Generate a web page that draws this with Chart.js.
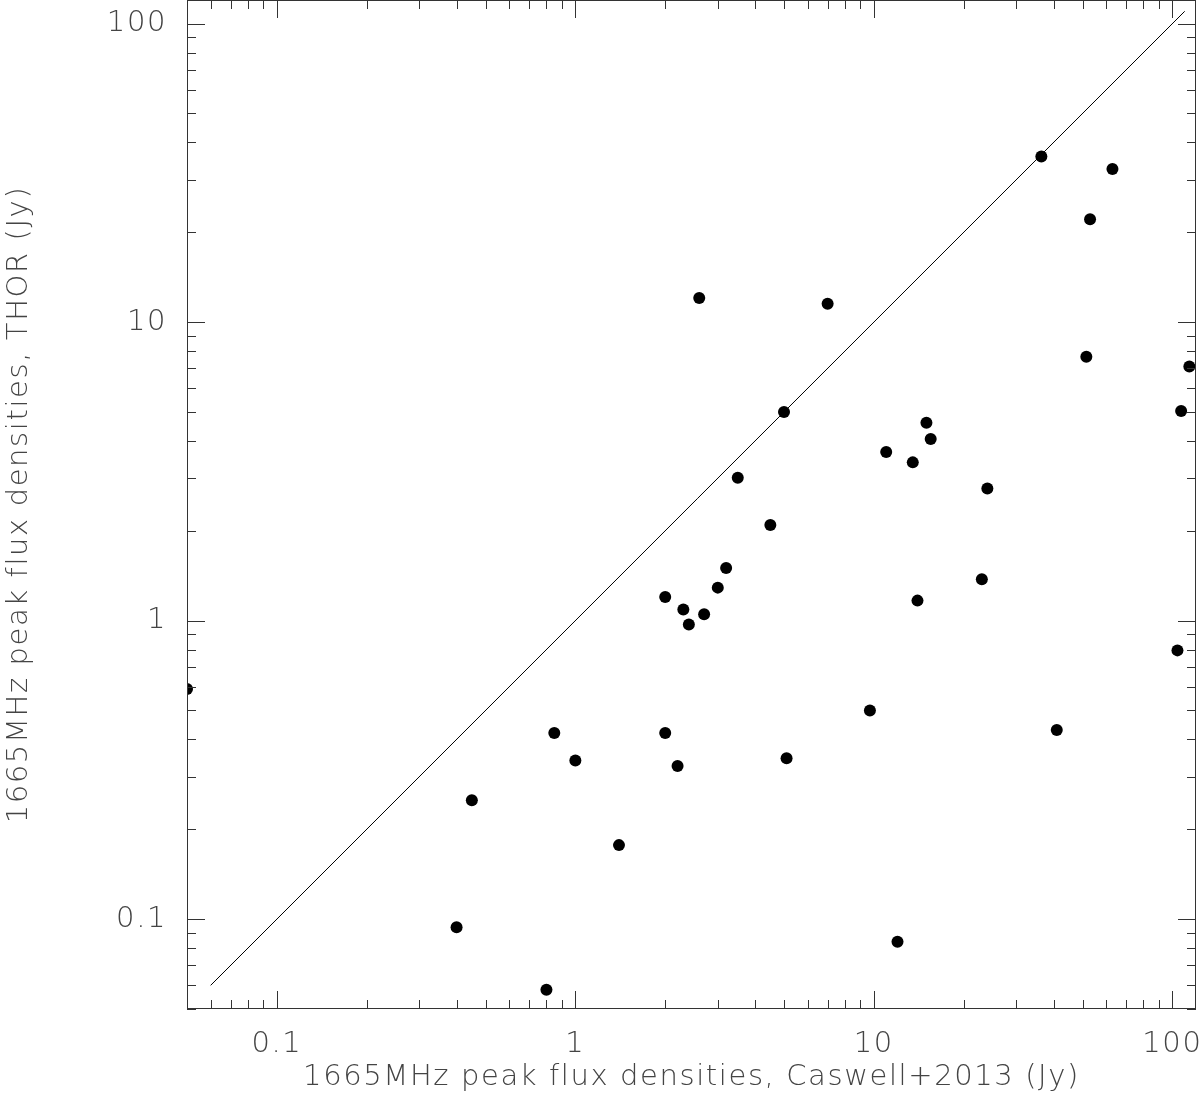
<!DOCTYPE html>
<html>
<head>
<meta charset="utf-8">
<script src="https://cdn.jsdelivr.net/npm/chart.js@4"></script>
<style>
  html, body { margin: 0; padding: 0; background: #fff; }
  #wrap { width: 1200px; height: 1097px; }
</style>
</head>
<body>
<div id="wrap"><canvas id="myChart" width="1200" height="1097"></canvas></div>
<script>
// peak flux densities at 1665 MHz: Caswell+2013 (x) vs THOR (y), in Jy
var caswellFlux = [0.05, 0.85, 1.0, 0.45, 1.40, 0.40, 0.80, 5.0, 15.0, 15.5,
                   11.0, 13.5, 24.0, 3.5, 4.5, 3.2, 3.0, 2.0, 2.3, 2.7,
                   2.4, 23.0, 14.0, 9.7, 2.0, 2.2, 5.1, 104, 41, 12.0,
                   36.4, 63, 53, 2.6, 7.0, 51.5, 114, 107];
var thorFlux = [0.59, 0.42, 0.34, 0.25, 0.177, 0.094, 0.058, 5.0, 4.6, 4.06,
                3.67, 3.39, 2.77, 3.01, 2.09, 1.50, 1.29, 1.20, 1.09, 1.05,
                0.97, 1.375, 1.167, 0.50, 0.42, 0.326, 0.346, 0.795, 0.43, 0.084,
                35.9, 32.6, 22.1, 12.04, 11.52, 7.65, 7.10, 5.04];

// one-to-one line
var lineX = [0.06, 110];
var lineY = [0.06, 110];

// axis range and ticks
var axisMin = 0.05;
var axisMax = 120;
var majorVals = [0.1, 1, 10, 100];
var majorLabels = ['0.1', '1', '10', '100'];
var mantissas = [1, 2, 3, 4, 5, 6, 7, 8, 9];
var decades = [0.01, 0.1, 1, 10, 100];

var textFont = { family: "'DejaVu Sans', sans-serif", size: 29, weight: 200 };
var textColor = '#444';
var frameColor = '#333';

function logTicks(scale) {
    var ticks = [];
    decades.forEach(function (d) {
        mantissas.forEach(function (m) {
            var v = +(m * d).toPrecision(3);
            if (v >= axisMin && v <= axisMax) {
                ticks.push({ value: v, major: m === 1 });
            }
        });
    });
    scale.ticks = ticks;
}

function tickLabel(value) {
    var i = majorVals.indexOf(+value.toPrecision(3));
    return i >= 0 ? majorLabels[i] : '';
}

// keep the plot box fixed, no extra room for edge labels
function noPad(s) {
    s.paddingTop = 0;
    s.paddingBottom = 0;
    s.paddingLeft = 0;
    s.paddingRight = 0;
}

// wider letters, like the plotting package's stroke font
var wideText = {
    id: 'wideText',
    beforeDraw: function (chart) {
        chart.ctx.letterSpacing = '1.6px';
    }
};

// box around the plot with inward ticks on all four sides
var frameTicks = {
    id: 'frameTicks',
    afterDraw: function (chart) {
        var ctx = chart.ctx, a = chart.chartArea;
        var xs = chart.scales.x, ys = chart.scales.y;
        ctx.save();
        ctx.strokeStyle = frameColor;
        ctx.lineWidth = 1;
        ctx.strokeRect(a.left + 0.5, a.top + 0.5, a.right - a.left - 1, a.bottom - a.top - 1);
        ctx.beginPath();
        xs.ticks.forEach(function (t) {
            var px = Math.round(xs.getPixelForValue(t.value)) + 0.5;
            var len = t.major ? 18 : 9;
            ctx.moveTo(px, a.bottom); ctx.lineTo(px, a.bottom - len);
            ctx.moveTo(px, a.top); ctx.lineTo(px, a.top + len);
        });
        ys.ticks.forEach(function (t) {
            var py = Math.round(ys.getPixelForValue(t.value)) + 0.5;
            var len = t.major ? 18 : 9;
            ctx.moveTo(a.left, py); ctx.lineTo(a.left + len, py);
            ctx.moveTo(a.right, py); ctx.lineTo(a.right - len, py);
        });
        ctx.stroke();
        ctx.restore();
    }
};

var ctx = document.getElementById('myChart').getContext('2d');

var scatterData = caswellFlux.map(function (x, i) { return { x: x, y: thorFlux[i] }; });
var lineData = lineX.map(function (x, i) { return { x: x, y: lineY[i] }; });

var myChart = new Chart(ctx, {
    type: 'scatter',
    data: {
        datasets: [{
            label: 'masers',
            data: scatterData,
            backgroundColor: '#000',
            borderWidth: 0,
            pointRadius: 6,
            pointHoverRadius: 6,
            clip: 0
        }, {
            type: 'line',
            label: '1:1',
            data: lineData,
            borderColor: '#000',
            borderWidth: 1,
            pointRadius: 0,
            fill: false,
            clip: 0
        }]
    },
    options: {
        responsive: false,
        animation: false,
        events: [],
        layout: { autoPadding: false, padding: { top: 0, right: 4, left: 0, bottom: 0 } },
        plugins: {
            legend: { display: false },
            tooltip: { enabled: false }
        },
        scales: {
            x: {
                type: 'logarithmic',
                min: axisMin,
                max: axisMax,
                afterBuildTicks: logTicks,
                afterFit: function (s) { s.height = 88; noPad(s); },
                grid: { drawOnChartArea: false, drawTicks: false },
                border: { display: false },
                ticks: {
                    autoSkip: false,
                    maxRotation: 0,
                    padding: 18,
                    color: textColor,
                    font: textFont,
                    callback: tickLabel
                },
                title: {
                    display: true,
                    text: '1665MHz peak flux densities, Caswell+2013 (Jy)',
                    color: textColor,
                    font: textFont,
                    padding: { top: 0, bottom: 2 }
                }
            },
            y: {
                type: 'logarithmic',
                min: axisMin,
                max: axisMax,
                afterBuildTicks: logTicks,
                afterFit: function (s) { s.width = 187; noPad(s); },
                grid: { drawOnChartArea: false, drawTicks: false },
                border: { display: false },
                ticks: {
                    autoSkip: false,
                    padding: 20,
                    color: textColor,
                    font: textFont,
                    callback: tickLabel
                },
                title: {
                    display: true,
                    text: '1665MHz peak flux densities, THOR (Jy)',
                    color: textColor,
                    font: textFont,
                    padding: { top: 2, bottom: 0 }
                }
            }
        }
    },
    plugins: [wideText, frameTicks]
});
</script>
</body>
</html>
